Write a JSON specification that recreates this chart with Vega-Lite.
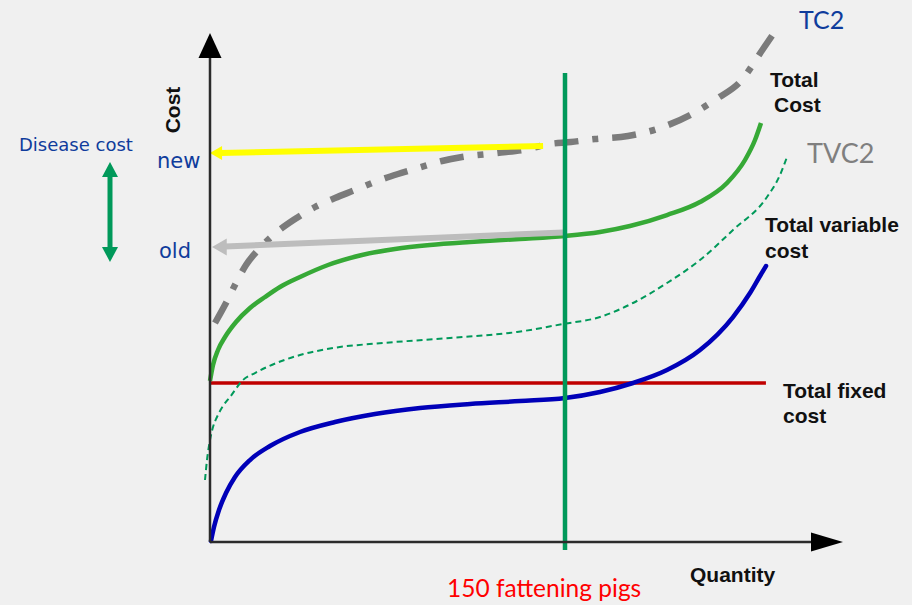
{
  "$schema": "https://vega.github.io/schema/vega-lite/v6.json",
  "width": 912,
  "height": 605,
  "padding": 0,
  "autosize": {"type": "none"},
  "background": "#f0f0f0",
  "config": {"view": {"stroke": null}},
  "datasets": {
    "tfc": [
      {"q": 0, "c": 29.34},
      {"q": 234.9, "c": 29.34}
    ],
    "tvc": [
      {"q": 0.42, "c": 0.18}, {"q": 1.69, "c": 2.77}, {"q": 3.8, "c": 5.9}, {"q": 6.76, "c": 9.04},
      {"q": 10.56, "c": 11.99}, {"q": 16.9, "c": 15.13}, {"q": 25.35, "c": 17.71}, {"q": 38.03, "c": 20.3},
      {"q": 52.82, "c": 22.14}, {"q": 69.72, "c": 23.62}, {"q": 88.73, "c": 24.72}, {"q": 109.86, "c": 25.46},
      {"q": 130.98, "c": 26.01}, {"q": 150, "c": 26.57}, {"q": 164.79, "c": 27.68}, {"q": 178.73, "c": 29.34},
      {"q": 193.1, "c": 31.73}, {"q": 207.04, "c": 35.42}, {"q": 220.99, "c": 41.51}, {"q": 228.17, "c": 45.94},
      {"q": 232.4, "c": 49.08}, {"q": 234.94, "c": 50.92}
    ],
    "tvc2": [
      {"q": -2.11, "c": 11.44}, {"q": -1.27, "c": 15.13}, {"q": 0, "c": 18.82}, {"q": 1.27, "c": 21.22},
      {"q": 2.96, "c": 23.06}, {"q": 5.49, "c": 25.09}, {"q": 8.45, "c": 26.75}, {"q": 13.94, "c": 29.89},
      {"q": 19.01, "c": 31.18}, {"q": 24.08, "c": 32.29}, {"q": 38.03, "c": 34.5}, {"q": 51.97, "c": 35.79},
      {"q": 73.1, "c": 36.72}, {"q": 101.41, "c": 37.64}, {"q": 129.72, "c": 38.75}, {"q": 149.15, "c": 40.22},
      {"q": 164.79, "c": 41.51}, {"q": 178.73, "c": 44.1}, {"q": 193.1, "c": 47.79}, {"q": 207.04, "c": 52.03},
      {"q": 220.99, "c": 57.56}, {"q": 235.35, "c": 63.65}, {"q": 240.84, "c": 67.71}, {"q": 243.8, "c": 71.03}
    ],
    "tc": [
      {"q": 0, "c": 29.71}, {"q": 1.27, "c": 32.66}, {"q": 3.38, "c": 35.42}, {"q": 6.34, "c": 37.82},
      {"q": 10.99, "c": 40.59}, {"q": 16.9, "c": 43.17}, {"q": 23.24, "c": 45.2}, {"q": 29.58, "c": 47.05},
      {"q": 38.03, "c": 48.89}, {"q": 49.86, "c": 51.11}, {"q": 64.22, "c": 52.95}, {"q": 78.17, "c": 54.06},
      {"q": 92.96, "c": 54.8}, {"q": 109.86, "c": 55.35}, {"q": 130.98, "c": 55.9}, {"q": 150, "c": 56.46},
      {"q": 164.79, "c": 57.2}, {"q": 177.46, "c": 58.3}, {"q": 193.1, "c": 60.33}, {"q": 207.04, "c": 62.73},
      {"q": 218.45, "c": 66.24}, {"q": 226.06, "c": 70.48}, {"q": 230.28, "c": 74.17}, {"q": 232.82, "c": 77.31}
    ],
    "tc2": [
      {"q": 2.11, "c": 40.41}, {"q": 6.76, "c": 44.1}, {"q": 10.99, "c": 47.79}, {"q": 15.21, "c": 51.11},
      {"q": 21.13, "c": 54.24}, {"q": 28.31, "c": 57.2}, {"q": 35.92, "c": 59.59}, {"q": 44.37, "c": 61.81},
      {"q": 52.82, "c": 63.47}, {"q": 61.27, "c": 64.94}, {"q": 70.56, "c": 66.6}, {"q": 79.44, "c": 67.9},
      {"q": 87.89, "c": 69.0}, {"q": 98.03, "c": 70.3}, {"q": 106.48, "c": 71.03}, {"q": 121.27, "c": 71.77},
      {"q": 134.36, "c": 72.5}, {"q": 143.0, "c": 73.4}, {"q": 152.5, "c": 73.8}, {"q": 162.68, "c": 74.35},
      {"q": 176.62, "c": 74.91}, {"q": 190.14, "c": 76.38}, {"q": 202.82, "c": 78.78}, {"q": 214.65, "c": 81.92},
      {"q": 223.94, "c": 84.87}, {"q": 233.66, "c": 90.96}, {"q": 240.0, "c": 95.02}
    ],
    "rules": [
      {"name": "yaxis", "q": 0, "c": 0, "q2": 0, "c2": 89.3},
      {"name": "xaxis", "q": 0, "c": 0, "q2": 254.4, "c2": 0},
      {"name": "output", "q": 150, "c": -1.48, "q2": 150, "c2": 86.53},
      {"name": "old", "q": 149.15, "c": 57.1, "q2": 6.34, "c2": 54.52},
      {"name": "new", "q": 140.74, "c": 73.06, "q2": 4.23, "c2": 71.77},
      {"name": "disease", "q": -42.25, "c": 67.71, "q2": -42.25, "c2": 54.06}
    ],
    "heads": [
      {"name": "yaxis", "q": 0, "c": 91.6},
      {"name": "xaxis", "q": 260.7, "c": 0},
      {"name": "new", "q": 2.54, "c": 71.77},
      {"name": "old", "q": 3.97, "c": 54.43},
      {"name": "disease_up", "q": -42.25, "c": 68.73},
      {"name": "disease_down", "q": -42.25, "c": 53.04}
    ],
    "labels": [
      {"group": "bold", "text": "Total", "q": 236.62, "c": 83.95},
      {"group": "bold", "text": "Cost", "q": 238.31, "c": 79.34},
      {"group": "bold", "text": "Total variable", "q": 234.5, "c": 57.2},
      {"group": "bold", "text": "cost", "q": 234.5, "c": 52.4},
      {"group": "bold", "text": "Total fixed", "q": 242.11, "c": 26.57},
      {"group": "bold", "text": "cost", "q": 242.11, "c": 21.96},
      {"group": "bold", "text": "Quantity", "q": 202.82, "c": -7.38},
      {"group": "ytitle", "text": "Cost", "q": -12.68, "c": 79.7},
      {"group": "disease", "text": "Disease cost", "q": -80.7, "c": 72.14},
      {"group": "level", "text": "new", "q": -22.39, "c": 69.0},
      {"group": "level", "text": "old", "q": -21.55, "c": 52.4},
      {"group": "tc2", "text": "TC2", "q": 248.88, "c": 94.65},
      {"group": "tvc2", "text": "TVC2", "q": 252.25, "c": 69.92},
      {"group": "pigs", "text": "150 fattening pigs", "q": 100.14, "c": -10.15}
    ]
  },
  "encoding": {
    "x": {"field": "q", "type": "quantitative", "axis": null,
          "scale": {"domain": [-88.73, 296.62], "nice": false, "zero": false}},
    "y": {"field": "c", "type": "quantitative", "axis": null,
          "scale": {"domain": [-11.62, 100], "nice": false, "zero": false}}
  },
  "layer": [
    {"data": {"name": "tfc"}, "mark": {"type": "line", "color": "#c00000", "strokeWidth": 3.5}},
    {"data": {"name": "tvc"}, "mark": {"type": "line", "color": "#0000b8", "strokeWidth": 4.5, "interpolate": "monotone", "strokeCap": "round"}},
    {"data": {"name": "tvc2"}, "mark": {"type": "line", "color": "#00995a", "strokeWidth": 2, "strokeDash": [6, 4], "interpolate": "monotone"}},
    {"data": {"name": "tc"}, "mark": {"type": "line", "color": "#36a936", "strokeWidth": 4.5, "interpolate": "monotone"}},
    {"data": {"name": "tc2"}, "mark": {"type": "line", "color": "#7b7b7b", "strokeWidth": 6.5, "strokeDash": [24, 14, 6, 14], "strokeCap": "butt", "interpolate": "monotone"}},
    {"data": {"name": "rules"}, "transform": [{"filter": "datum.name === 'old'"}],
     "mark": {"type": "rule", "color": "#bdbdbd", "strokeWidth": 6},
     "encoding": {"x2": {"field": "q2"}, "y2": {"field": "c2"}}},
    {"data": {"name": "heads"}, "transform": [{"filter": "datum.name === 'old'"}],
     "mark": {"type": "point", "shape": "triangle-left", "size": 289, "filled": true, "color": "#bdbdbd", "opacity": 1, "strokeWidth": 0}},
    {"data": {"name": "rules"}, "transform": [{"filter": "datum.name === 'new'"}],
     "mark": {"type": "rule", "color": "#ffff00", "strokeWidth": 6},
     "encoding": {"x2": {"field": "q2"}, "y2": {"field": "c2"}}},
    {"data": {"name": "heads"}, "transform": [{"filter": "datum.name === 'new'"}],
     "mark": {"type": "point", "shape": "triangle-left", "size": 196, "filled": true, "color": "#ffff00", "opacity": 1, "strokeWidth": 0}},
    {"data": {"name": "rules"}, "transform": [{"filter": "datum.name === 'output'"}],
     "mark": {"type": "rule", "color": "#00995a", "strokeWidth": 4.5},
     "encoding": {"x2": {"field": "q2"}, "y2": {"field": "c2"}}},
    {"data": {"name": "rules"}, "transform": [{"filter": "datum.name === 'yaxis' || datum.name === 'xaxis'"}],
     "mark": {"type": "rule", "color": "#2b2b2b", "strokeWidth": 2.5},
     "encoding": {"x2": {"field": "q2"}, "y2": {"field": "c2"}}},
    {"data": {"name": "heads"}, "transform": [{"filter": "datum.name === 'yaxis'"}],
     "mark": {"type": "point", "shape": "M0,-1L0.92,1L-0.92,1Z", "size": 625, "filled": true, "color": "#000000", "opacity": 1, "strokeWidth": 0}},
    {"data": {"name": "heads"}, "transform": [{"filter": "datum.name === 'xaxis'"}],
     "mark": {"type": "point", "shape": "M1,0L-1,-0.594L-1,0.594Z", "size": 1024, "filled": true, "color": "#000000", "opacity": 1, "strokeWidth": 0}},
    {"data": {"name": "rules"}, "transform": [{"filter": "datum.name === 'disease'"}],
     "mark": {"type": "rule", "color": "#00995a", "strokeWidth": 5},
     "encoding": {"x2": {"field": "q2"}, "y2": {"field": "c2"}}},
    {"data": {"name": "heads"}, "transform": [{"filter": "datum.name === 'disease_up'"}],
     "mark": {"type": "point", "shape": "M0,-0.9375L1,0.9375L-1,0.9375Z", "size": 256, "filled": true, "color": "#00995a", "opacity": 1, "strokeWidth": 0}},
    {"data": {"name": "heads"}, "transform": [{"filter": "datum.name === 'disease_down'"}],
     "mark": {"type": "point", "shape": "M0,0.9375L1,-0.9375L-1,-0.9375Z", "size": 256, "filled": true, "color": "#00995a", "opacity": 1, "strokeWidth": 0}},
    {"data": {"name": "labels"}, "transform": [{"filter": "datum.group === 'bold'"}],
     "mark": {"type": "text", "font": "Liberation Sans", "fontSize": 21, "fontWeight": "bold", "color": "#111111", "align": "left", "baseline": "alphabetic"},
     "encoding": {"text": {"field": "text"}}},
    {"data": {"name": "labels"}, "transform": [{"filter": "datum.group === 'ytitle'"}],
     "mark": {"type": "text", "font": "Liberation Sans", "fontSize": 21, "fontWeight": "bold", "color": "#111111", "align": "center", "baseline": "alphabetic", "angle": 270},
     "encoding": {"text": {"field": "text"}}},
    {"data": {"name": "labels"}, "transform": [{"filter": "datum.group === 'disease'"}],
     "mark": {"type": "text", "font": "DejaVu Sans", "fontSize": 18, "color": "#0f3c9c", "align": "left", "baseline": "alphabetic"},
     "encoding": {"text": {"field": "text"}}},
    {"data": {"name": "labels"}, "transform": [{"filter": "datum.group === 'level'"}],
     "mark": {"type": "text", "font": "DejaVu Sans", "fontSize": 21, "color": "#0f3c9c", "align": "left", "baseline": "alphabetic"},
     "encoding": {"text": {"field": "text"}}},
    {"data": {"name": "labels"}, "transform": [{"filter": "datum.group === 'tc2'"}],
     "mark": {"type": "text", "font": "Lato", "fontSize": 25, "color": "#0f3c9c", "align": "left", "baseline": "alphabetic"},
     "encoding": {"text": {"field": "text"}}},
    {"data": {"name": "labels"}, "transform": [{"filter": "datum.group === 'tvc2'"}],
     "mark": {"type": "text", "font": "Lato", "fontSize": 27, "color": "#7f7f7f", "align": "left", "baseline": "alphabetic"},
     "encoding": {"text": {"field": "text"}}},
    {"data": {"name": "labels"}, "transform": [{"filter": "datum.group === 'pigs'"}],
     "mark": {"type": "text", "font": "Lato", "fontSize": 24.5, "color": "#ff0000", "align": "left", "baseline": "alphabetic"},
     "encoding": {"text": {"field": "text"}}}
  ]
}
